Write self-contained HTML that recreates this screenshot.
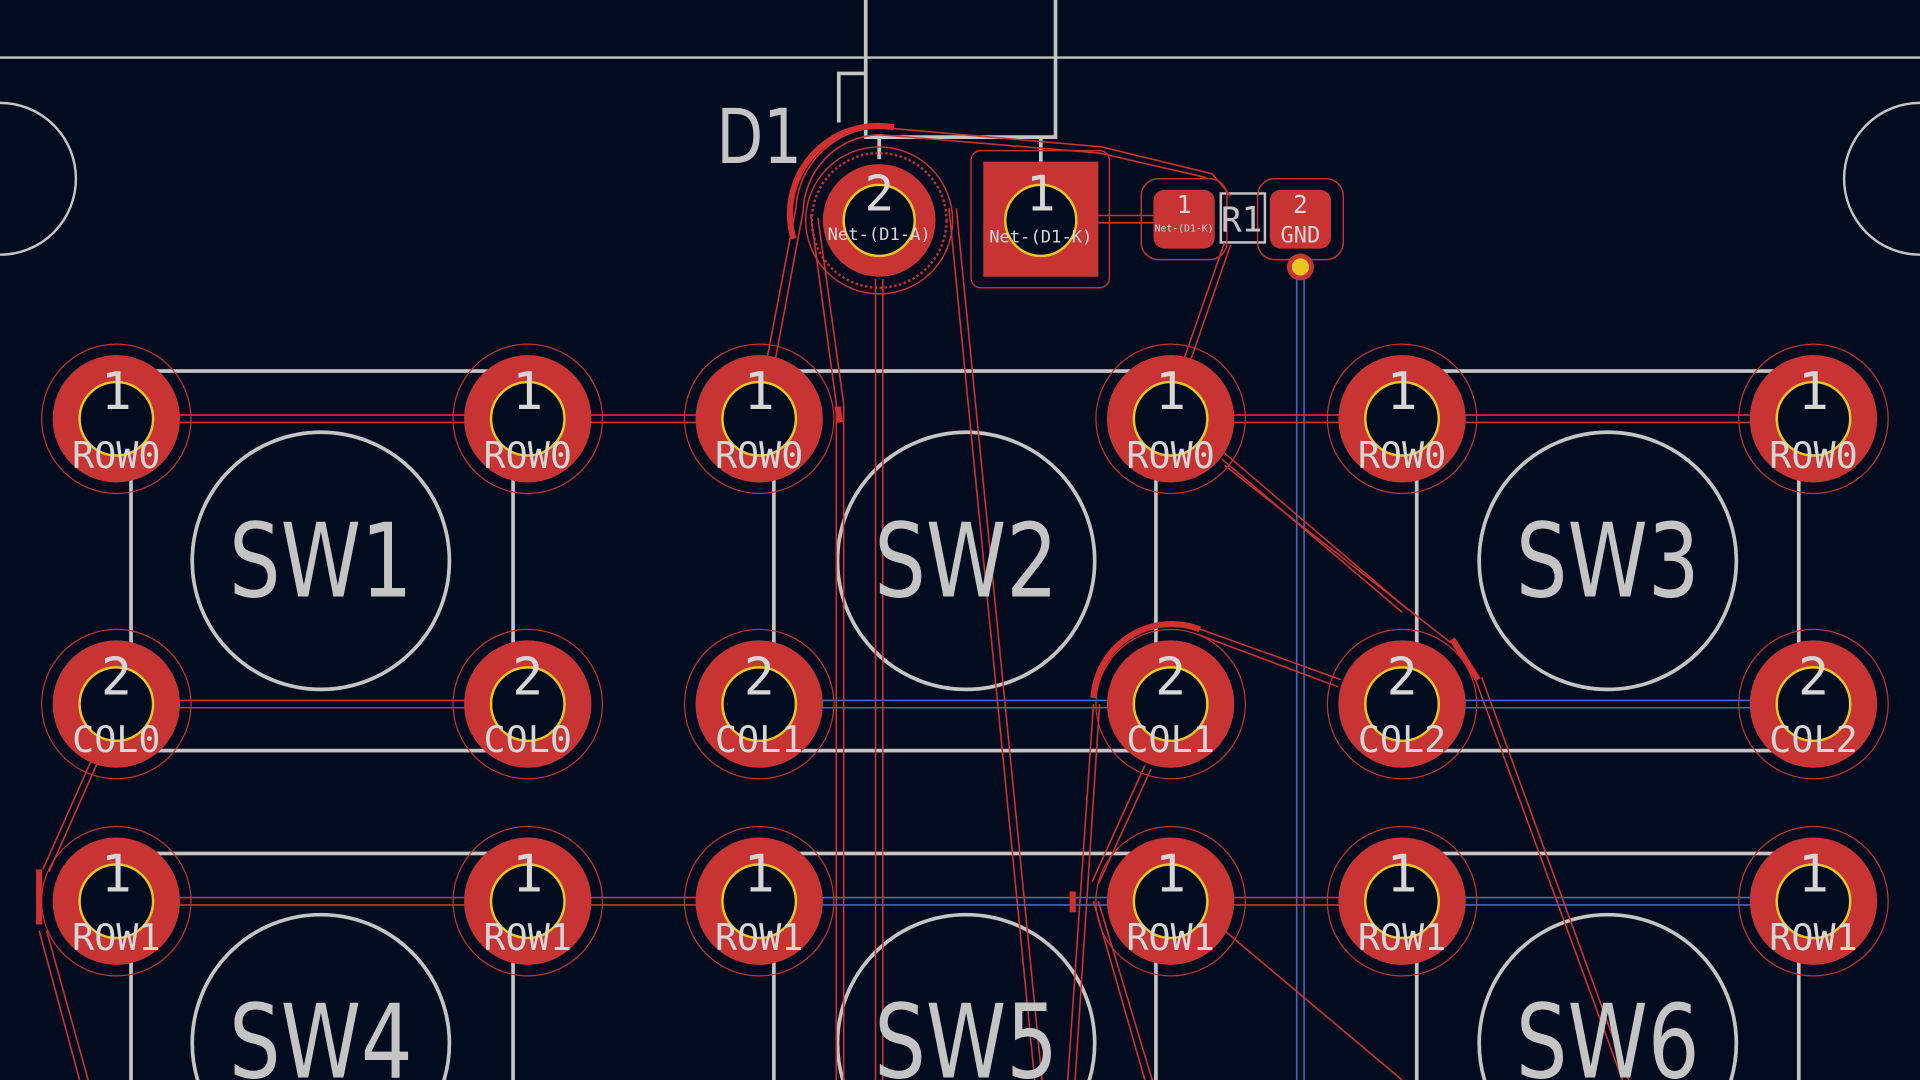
<!DOCTYPE html>
<html><head><meta charset="utf-8"><style>
html,body{margin:0;padding:0;background:#020c1e;width:1920px;height:1080px;overflow:hidden;}
svg{display:block}
text{font-family:"DejaVu Sans Mono","Liberation Mono",monospace;fill:#d6d6d6;text-anchor:middle}
text.sw{font-family:"DejaVu Sans","Liberation Sans",sans-serif;fill:#c4c4c4}
</style></head><body>
<svg width="1920" height="1080" viewBox="0 0 1568 882" xmlns="http://www.w3.org/2000/svg">
<defs>
<g id="pad">
<circle r="61" fill="none" stroke="#c83030" stroke-width="1"/>
<circle r="52" fill="#c83434"/>
<circle r="30" fill="#020c1e" stroke="#e8c820" stroke-width="2"/>
</g>
</defs>
<rect width="1568" height="882" fill="#020c1e"/>
<g stroke="#c4c4c4" stroke-width="3" fill="none">
<line x1="0" y1="47" x2="1568" y2="47" stroke-width="2"/>
<polyline points="707,0 707,112 862,112 862,0"/>
<polyline points="707,60 685,60 685,100"/>
<line x1="718" y1="112" x2="718" y2="130"/>
<line x1="850" y1="112" x2="850" y2="132"/>
<circle cx="0" cy="146" r="62" stroke-width="2"/>
<circle cx="1568" cy="146" r="62" stroke-width="2"/>
<rect x="997" y="158" width="36" height="40" stroke-width="2"/>
<rect x="107" y="303" width="312" height="310"/>
<rect x="632" y="303" width="312" height="310"/>
<rect x="1157" y="303" width="312" height="310"/>
<rect x="107" y="697" width="312" height="310"/>
<rect x="632" y="697" width="312" height="310"/>
<rect x="1157" y="697" width="312" height="310"/>
<circle cx="262" cy="458" r="105"/>
<circle cx="789" cy="458" r="105"/>
<circle cx="1313" cy="458" r="105"/>
<circle cx="262" cy="852" r="105"/>
<circle cx="789" cy="852" r="105"/>
<circle cx="1313" cy="852" r="105"/>
</g>
<g stroke="#3a6ac8" stroke-width="1.3" fill="none">
<line x1="1059" y1="218" x2="1059" y2="882"/><line x1="1065" y1="218" x2="1065" y2="882"/>
<line x1="620" y1="572" x2="956" y2="572"/><line x1="620" y1="578" x2="956" y2="578"/>
<line x1="1145" y1="572" x2="1481" y2="572"/><line x1="1145" y1="578" x2="1481" y2="578"/>
<line x1="620" y1="733" x2="956" y2="733"/><line x1="620" y1="739" x2="956" y2="739"/>
<line x1="1145" y1="733" x2="1481" y2="733"/><line x1="1145" y1="739" x2="1481" y2="739"/>
</g>
<g stroke="#d03030" stroke-width="1.3" fill="none">
<line x1="95" y1="339" x2="620" y2="339"/><line x1="95" y1="345" x2="620" y2="345"/>
<line x1="956" y1="339" x2="1481" y2="339"/><line x1="956" y1="345" x2="1481" y2="345"/>
<line x1="95" y1="572" x2="431" y2="572"/><line x1="95" y1="578" x2="431" y2="578"/>
<line x1="95" y1="733" x2="620" y2="733"/><line x1="95" y1="739" x2="620" y2="739"/>
<line x1="956" y1="733" x2="1145" y2="733"/><line x1="956" y1="739" x2="1145" y2="739"/>
<line x1="897" y1="176" x2="942" y2="176"/><line x1="897" y1="182" x2="942" y2="182"/>
<path d="M625,300 L650,170 A70,70 0 0 1 718,104 L900,120 L990,142 L1005,160"/>
<path d="M632,300 L656,172 A64,64 0 0 1 718,110 L898,125 L985,145"/>
<line x1="683" y1="330" x2="683" y2="882"/><line x1="689" y1="330" x2="689" y2="882"/>
<line x1="715" y1="228" x2="715" y2="882"/><line x1="721" y1="228" x2="721" y2="882"/>
<path d="M683,330 L662,175"/><path d="M689,330 L668,178"/>
<line x1="775" y1="170" x2="845" y2="882"/><line x1="781" y1="170" x2="851" y2="882"/>
<line x1="1005" y1="200" x2="972" y2="295"/><line x1="1000" y1="198" x2="967" y2="293"/>
<line x1="998" y1="375" x2="1145" y2="500"/><line x1="1000" y1="370" x2="1150" y2="498"/>
<line x1="1000" y1="380" x2="1185" y2="525"/>
<line x1="975" y1="512" x2="1095" y2="555"/><line x1="978" y1="518" x2="1093" y2="561"/>
<line x1="1205" y1="555" x2="1325" y2="882"/><line x1="1210" y1="553" x2="1330" y2="882"/>
<line x1="893" y1="575" x2="872" y2="882"/><line x1="898" y1="575" x2="878" y2="882"/>
<line x1="935" y1="625" x2="892" y2="720"/><line x1="940" y1="628" x2="897" y2="722"/>
<line x1="893" y1="736" x2="935" y2="882"/><line x1="897" y1="736" x2="941" y2="882"/>
<line x1="1000" y1="760" x2="1145" y2="882"/>
<line x1="75" y1="620" x2="35" y2="710"/><line x1="80" y1="622" x2="40" y2="712"/>
<line x1="32" y1="760" x2="65" y2="882"/><line x1="38" y1="760" x2="72" y2="882"/>
</g>
<g stroke="#d03030" stroke-width="5" fill="none">
<path d="M648,195 A72,72 0 0 1 730,104"/>
<path d="M893,570 A64,64 0 0 1 980,514"/>
<line x1="684" y1="332" x2="686" y2="345"/>
<line x1="32" y1="710" x2="32" y2="755"/>
<line x1="876" y1="728" x2="876" y2="745"/>
<path d="M1186,522 L1207,555"/>
</g>
<circle cx="718" cy="180" r="60" fill="none" stroke="#d03030" stroke-width="1.2"/>
<circle cx="718" cy="180" r="55" fill="none" stroke="#c83030" stroke-width="2" stroke-dasharray="2,2"/>
<circle cx="718" cy="180" r="46" fill="#c83434"/>
<circle cx="718" cy="180" r="29" fill="#020c1e" stroke="#e8c820" stroke-width="2"/>
<rect x="793" y="123" width="113" height="112" rx="8" fill="none" stroke="#c83030" stroke-width="1.2"/>
<rect x="803" y="132" width="94" height="94" fill="#c83434"/>
<circle cx="850" cy="180" r="29" fill="#020c1e" stroke="#e8c820" stroke-width="2"/>
<rect x="932" y="146" width="70" height="66" rx="14" fill="none" stroke="#c83030" stroke-width="1.2"/>
<rect x="1027" y="146" width="70" height="66" rx="14" fill="none" stroke="#c83030" stroke-width="1.2"/>
<rect x="942" y="155" width="50" height="48" rx="9" fill="#c83434"/>
<rect x="1037" y="155" width="50" height="48" rx="9" fill="#c83434"/>
<circle cx="1062" cy="218" r="11" fill="#c83434"/>
<circle cx="1062" cy="218" r="7" fill="#e8c820"/>
<text x="620" y="133" font-size="62" class="sw" textLength="70" lengthAdjust="spacingAndGlyphs">D1</text>
<text x="718" y="172" font-size="40">2</text>
<text x="718" y="196" font-size="14">Net-(D1-A)</text>
<text x="850" y="172" font-size="40">1</text>
<text x="850" y="198" font-size="14">Net-(D1-K)</text>
<text x="967" y="174" font-size="20">1</text>
<text x="967" y="189" font-size="8">Net-(D1-K)</text>
<text x="1062" y="174" font-size="20">2</text>
<text x="1062" y="198" font-size="18">GND</text>
<text x="1014" y="189" font-size="28" style="fill:#c4c4c4">R1</text>
<g font-size="84">
<text class="sw" x="262" y="487" textLength="150" lengthAdjust="spacingAndGlyphs">SW1</text>
<text class="sw" x="789" y="487" textLength="150" lengthAdjust="spacingAndGlyphs">SW2</text>
<text class="sw" x="1313" y="487" textLength="150" lengthAdjust="spacingAndGlyphs">SW3</text>
<text class="sw" x="262" y="880" textLength="150" lengthAdjust="spacingAndGlyphs">SW4</text>
<text class="sw" x="789" y="880" textLength="150" lengthAdjust="spacingAndGlyphs">SW5</text>
<text class="sw" x="1313" y="880" textLength="150" lengthAdjust="spacingAndGlyphs">SW6</text>
</g>
<use href="#pad" x="95" y="342"/><use href="#pad" x="431" y="342"/><use href="#pad" x="620" y="342"/>
<use href="#pad" x="956" y="342"/><use href="#pad" x="1145" y="342"/><use href="#pad" x="1481" y="342"/>
<use href="#pad" x="95" y="575"/><use href="#pad" x="431" y="575"/><use href="#pad" x="620" y="575"/>
<use href="#pad" x="956" y="575"/><use href="#pad" x="1145" y="575"/><use href="#pad" x="1481" y="575"/>
<use href="#pad" x="95" y="736"/><use href="#pad" x="431" y="736"/><use href="#pad" x="620" y="736"/>
<use href="#pad" x="956" y="736"/><use href="#pad" x="1145" y="736"/><use href="#pad" x="1481" y="736"/>
<g font-size="42">
<text x="95" y="334">1</text><text x="431" y="334">1</text><text x="620" y="334">1</text>
<text x="956" y="334">1</text><text x="1145" y="334">1</text><text x="1481" y="334">1</text>
<text x="95" y="567">2</text><text x="431" y="567">2</text><text x="620" y="567">2</text>
<text x="956" y="567">2</text><text x="1145" y="567">2</text><text x="1481" y="567">2</text>
<text x="95" y="728">1</text><text x="431" y="728">1</text><text x="620" y="728">1</text>
<text x="956" y="728">1</text><text x="1145" y="728">1</text><text x="1481" y="728">1</text>
</g>
<g font-size="30">
<text x="95" y="382">ROW0</text><text x="431" y="382">ROW0</text><text x="620" y="382">ROW0</text>
<text x="956" y="382">ROW0</text><text x="1145" y="382">ROW0</text><text x="1481" y="382">ROW0</text>
<text x="95" y="614">COL0</text><text x="431" y="614">COL0</text><text x="620" y="614">COL1</text>
<text x="956" y="614">COL1</text><text x="1145" y="614">COL2</text><text x="1481" y="614">COL2</text>
<text x="95" y="776">ROW1</text><text x="431" y="776">ROW1</text><text x="620" y="776">ROW1</text>
<text x="956" y="776">ROW1</text><text x="1145" y="776">ROW1</text><text x="1481" y="776">ROW1</text>
</g>
</svg>
</body></html>
